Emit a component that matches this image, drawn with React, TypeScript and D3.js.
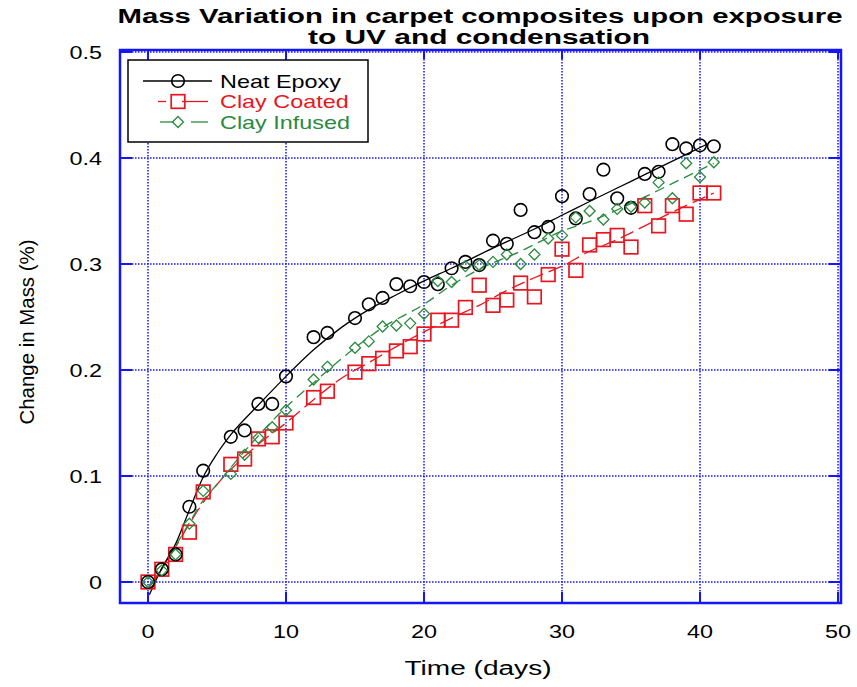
import React from "react";
import * as d3 from "d3";

const days = [0,1,2,3,4,6,7,8,9,10,12,13,15,16,17,18,19,20,21,22,23,24,25,26,27,28,29,30,31,32,33,34,35,36,37,38,39,40,41];
const neatEpoxy = [0,0.012,0.026,0.071,0.105,0.137,0.143,0.168,0.168,0.194,0.231,0.235,0.249,0.262,0.268,0.281,0.279,0.283,0.281,0.296,0.302,0.299,0.322,0.319,0.351,0.330,0.335,0.364,0.343,0.366,0.389,0.362,0.353,0.385,0.387,0.413,0.409,0.412,0.411];
const clayCoated = [0,0.012,0.026,0.047,0.085,0.111,0.116,0.135,0.137,0.150,0.174,0.180,0.198,0.206,0.211,0.218,0.222,0.234,0.247,0.247,0.259,0.280,0.261,0.266,0.282,0.269,0.290,0.314,0.294,0.318,0.323,0.327,0.316,0.355,0.336,0.355,0.347,0.367,0.367];
const clayInfused = [0,0.011,0.026,0.055,0.086,0.102,0.120,0.136,0.146,0.162,0.191,0.203,0.221,0.227,0.241,0.242,0.244,0.253,0.284,0.283,0.298,0.299,0.302,0.309,0.300,0.309,0.324,0.327,0.344,0.350,0.342,0.352,0.354,0.358,0.377,0.362,0.395,0.382,0.396];

// fitted curves
const neatFitX = [0.1,1,2,3,4,5,6,8,10,12,14,16,18,20,22,25,28,30,32,35,38,40.5];
const neatFitY = [-0.012,0.013,0.036,0.068,0.099,0.121,0.139,0.167,0.194,0.219,0.24,0.257,0.271,0.284,0.296,0.315,0.333,0.346,0.359,0.378,0.397,0.413];
const coatedFitX = [0.1,1,2,3,4,5,6,8,10,12,14,16,18,20,22,24,26,28,30,32,34,36,38,40,41];
const coatedFitY = [-0.005,0.013,0.033,0.055,0.075,0.092,0.106,0.13,0.15,0.172,0.192,0.207,0.222,0.236,0.249,0.261,0.275,0.287,0.298,0.312,0.323,0.336,0.349,0.361,0.367];
const infusedFitX = [0.1,1,2,3,4,5,6,8,10,12,15,17,20,22,24,27,30,32,35,38,41];
const infusedFitY = [-0.003,0.012,0.034,0.056,0.077,0.092,0.108,0.138,0.165,0.188,0.221,0.24,0.262,0.28,0.295,0.312,0.331,0.34,0.357,0.376,0.395];

const xTicks = [0,10,20,30,40,50];
const yTicks = [0,0.1,0.2,0.3,0.4,0.5];
const yTickLabels = ["0","0.1","0.2","0.3","0.4","0.5"];
const seriesNames = ["Neat Epoxy","Clay Coated","Clay Infused"];
const titleLines = ["Mass Variation in carpet composites upon exposure","to UV and condensation"];
const xLabel = "Time (days)";
const yLabel = "Change in Mass (%)";

const BLUE = "#1414ff";
const RED = "#e8161e";
const GREEN = "#2a8a3e";
const FONT = "'Liberation Sans', Arial, sans-serif";
const SX = 1.3;

export default function App() {
  const x = d3.scaleLinear().domain([0, 50]).range([148, 838]);
  const y = d3.scaleLinear().domain([0, 0.5]).range([582, 52]);
  const frame = { l: 120, r: 841, t: 50, b: 603 };

  const line = d3.line<[number, number]>().x(d => x(d[0])).y(d => y(d[1])).curve(d3.curveMonotoneX);
  const zip = (a: number[], b: number[]) => a.map((v, i) => [v, b[i]] as [number, number]);

  const circle = (cx: number, cy: number, key: any) => (
    <circle key={key} cx={cx} cy={cy} r={6.3} fill="none" stroke="#000" strokeWidth={1.6} />
  );
  const square = (cx: number, cy: number, key: any) => (
    <rect key={key} x={cx - 6.8} y={cy - 6.8} width={13.6} height={13.6} fill="none" stroke={RED} strokeWidth={1.7} />
  );
  const diamond = (cx: number, cy: number, key: any) => (
    <path key={key} d={`M${cx},${cy - 5.5}L${cx + 5.5},${cy}L${cx},${cy + 5.5}L${cx - 5.5},${cy}Z`} fill="none" stroke={GREEN} strokeWidth={1.3} />
  );

  const legendRows = [
    { name: seriesNames[0], color: "#000", marker: circle },
    { name: seriesNames[1], color: RED, marker: square },
    { name: seriesNames[2], color: GREEN, marker: diamond },
  ];

  return (
    <svg width={857} height={687} style={{ position: "absolute", left: 0, top: 0, background: "#fff" }} fontFamily={FONT}>
      <rect x={0} y={0} width={857} height={687} fill="#fff" />
      {/* title */}
      <text x={480} y={23} textAnchor="middle" fontSize={20} fontWeight="bold" textLength={725} lengthAdjust="spacingAndGlyphs">{titleLines[0]}</text>
      <text x={479} y={44} textAnchor="middle" fontSize={20} fontWeight="bold" textLength={342} lengthAdjust="spacingAndGlyphs">{titleLines[1]}</text>

      {/* grid */}
      {xTicks.map(t => (
        <line key={"gx" + t} x1={x(t)} x2={x(t)} y1={frame.t} y2={frame.b} stroke={BLUE} strokeWidth={1.5} strokeDasharray="1.5,1.5" />
      ))}
      {yTicks.map(t => (
        <line key={"gy" + t} x1={frame.l} x2={frame.r} y1={y(t)} y2={y(t)} stroke={BLUE} strokeWidth={1.5} strokeDasharray="1.5,1.5" />
      ))}
      {/* ticks */}
      {xTicks.map(t => (
        <g key={"tx" + t}>
          <line x1={x(t)} x2={x(t)} y1={frame.b} y2={frame.b - 11} stroke={BLUE} strokeWidth={2} />
          <line x1={x(t)} x2={x(t)} y1={frame.t} y2={frame.t + 9} stroke={BLUE} strokeWidth={2} />
        </g>
      ))}
      {yTicks.map(t => (
        <g key={"ty" + t}>
          <line x1={frame.l} x2={frame.l + 12} y1={y(t)} y2={y(t)} stroke={BLUE} strokeWidth={2} />
          <line x1={frame.r} x2={frame.r - 12} y1={y(t)} y2={y(t)} stroke={BLUE} strokeWidth={2} />
        </g>
      ))}
      <rect x={frame.l} y={frame.t} width={frame.r - frame.l} height={frame.b - frame.t} fill="none" stroke={BLUE} strokeWidth={2.5} />

      {/* tick labels */}
      {xTicks.map(t => (
        <text key={"lx" + t} transform={`translate(${x(t)},${638}) scale(${SX},1)`} textAnchor="middle" fontSize={18}>{t}</text>
      ))}
      {yTicks.map((t, i) => (
        <text key={"ly" + t} transform={`translate(${102},${y(t) + 6.5}) scale(${SX},1)`} textAnchor="end" fontSize={18}>{yTickLabels[i]}</text>
      ))}
      {/* axis labels */}
      <text x={478} y={675} textAnchor="middle" fontSize={20} textLength={147} lengthAdjust="spacingAndGlyphs">{xLabel}</text>
      <text transform={`translate(34,332) rotate(-90)`} textAnchor="middle" fontSize={20} textLength={185} lengthAdjust="spacingAndGlyphs">{yLabel}</text>

      {/* fits */}
      <path d={line(zip(coatedFitX, coatedFitY)) || ""} fill="none" stroke={RED} strokeWidth={1.3} strokeDasharray="14,6" />
      <path d={line(zip(infusedFitX, infusedFitY)) || ""} fill="none" stroke={GREEN} strokeWidth={1.3} strokeDasharray="10,6" />
      <path d={line(zip(neatFitX, neatFitY)) || ""} fill="none" stroke="#000" strokeWidth={1.3} />

      {/* points */}
      {days.map((d, i) => square(x(d), y(clayCoated[i]), "s" + i))}
      {days.map((d, i) => circle(x(d), y(neatEpoxy[i]), "c" + i))}
      {days.map((d, i) => diamond(x(d), y(clayInfused[i]), "d" + i))}

      {/* legend */}
      <rect x={128} y={60} width={240} height={82} fill="#fff" stroke="#000" strokeWidth={1.5} />
      {legendRows.map((r, i) => {
        const ly = 81 + i * 20.5;
        return (
          <g key={"lg" + i}>
            {i === 0 && <line x1={143} x2={212} y1={ly} y2={ly} stroke="#000" strokeWidth={1.3} />}
            {i === 1 && <>
              <line x1={158} x2={166} y1={ly} y2={ly} stroke={RED} strokeWidth={1.3} />
              <line x1={182} x2={208} y1={ly} y2={ly} stroke={RED} strokeWidth={1.3} />
            </>}
            {i === 2 && <>
              <line x1={160} x2={174} y1={ly} y2={ly} stroke={GREEN} strokeWidth={1.3} />
              <line x1={191} x2={208} y1={ly} y2={ly} stroke={GREEN} strokeWidth={1.3} />
            </>}
            {r.marker(178, ly, "m" + i)}
            <text transform={`translate(220,${ly + 6.5}) scale(${SX},1)`} fontSize={18} fill={r.color}>{r.name}</text>
          </g>
        );
      })}
    </svg>
  );
}
